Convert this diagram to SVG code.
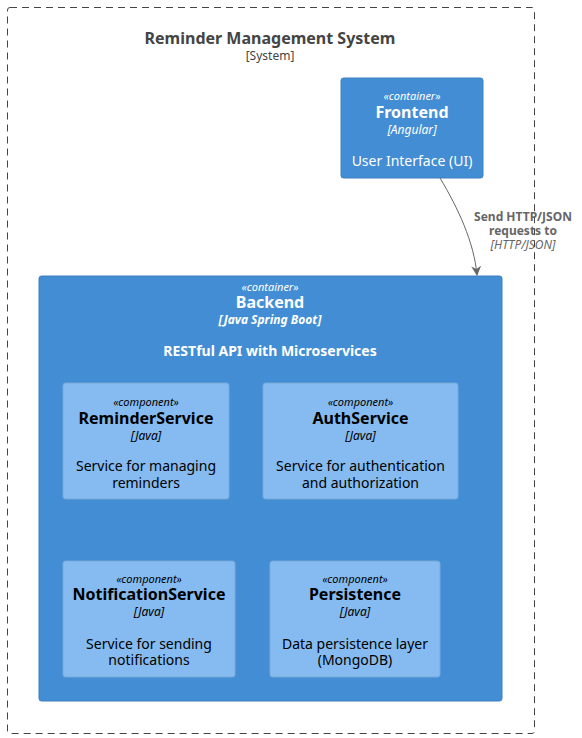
<svg xmlns="http://www.w3.org/2000/svg" width="582" height="738" viewBox="0 0 582 738">
<style>
text{font-family:"Noto Sans","Liberation Sans",Arial,sans-serif;text-anchor:middle;dominant-baseline:central}
.cont{fill:#438DD5;stroke:#3C7FC0;stroke-width:1}
.comp{fill:#85BBF0;stroke:#78A8D8;stroke-width:1}
.w{fill:#FFFFFF}
.b{fill:#000000}
.st{font-size:11px;font-style:italic}
.nm{font-size:16px;font-weight:bold}
.tc{font-size:12px;font-style:italic}
.ds{font-size:14px}
.lbl{fill:#666666;font-size:12px;font-weight:bold}
</style>
<defs>
<marker id="arr" viewBox="0 0 10 10" refX="9" refY="5" markerWidth="10" markerHeight="10" markerUnits="userSpaceOnUse" orient="auto">
<path d="M0,0 L10,5 L0,10 L3,5 Z" fill="#666666"/>
</marker>
</defs>
<g id="boundary">
<rect x="7.5" y="7.5" width="527" height="726" fill="none" stroke="#444444" stroke-width="1" stroke-dasharray="7,5" rx="2.5"/>
<text x="270" y="38" style="font-size:16px;font-weight:bold" fill="#444444">Reminder Management System</text>
<text x="270" y="55" style="font-size:12px" fill="#444444">[System]</text>
</g>
<g id="frontend">
<rect class="cont" x="341" y="78" width="142" height="100" rx="2.5"/>
<text class="w st" x="412" y="95">«container»</text>
<text class="w nm" x="412" y="112">Frontend</text>
<text class="w tc" x="412" y="129">[Angular]</text>
<text class="w ds" x="412" y="160">User Interface (UI)</text>
</g>
<g id="backend">
<rect class="cont" x="39" y="276" width="463" height="425" rx="2.5"/>
<text class="w st" x="270" y="286">«container»</text>
<text class="w nm" x="270" y="302">Backend</text>
<text class="w tc" x="270" y="319" style="font-weight:bold">[Java Spring Boot]</text>
<text class="w ds" x="270" y="350" style="font-weight:bold">RESTful API with Microservices</text>
</g>
<g id="reminderservice">
<rect class="comp" x="63" y="383" width="166" height="116" rx="2.5"/>
<text class="b st" x="146" y="401">«component»</text>
<text class="b nm" x="146" y="418">ReminderService</text>
<text class="b tc" x="146" y="435">[Java]</text>
<text class="b ds" x="146" y="465">Service for managing</text>
<text class="b ds" x="146" y="482">reminders</text>
</g>
<g id="authservice">
<rect class="comp" x="263" y="383" width="195" height="116" rx="2.5"/>
<text class="b st" x="360.5" y="401">«component»</text>
<text class="b nm" x="360.5" y="418">AuthService</text>
<text class="b tc" x="360.5" y="435">[Java]</text>
<text class="b ds" x="360.5" y="465">Service for authentication</text>
<text class="b ds" x="360.5" y="482">and authorization</text>
</g>
<g id="notificationservice">
<rect class="comp" x="63" y="561" width="172" height="116" rx="2.5"/>
<text class="b st" x="149" y="578">«component»</text>
<text class="b nm" x="149" y="594">NotificationService</text>
<text class="b tc" x="149" y="611">[Java]</text>
<text class="b ds" x="149" y="643">Service for sending</text>
<text class="b ds" x="149" y="659">notifications</text>
</g>
<g id="persistence">
<rect class="comp" x="270" y="561" width="170" height="116" rx="2.5"/>
<text class="b st" x="355" y="578">«component»</text>
<text class="b nm" x="355" y="594">Persistence</text>
<text class="b tc" x="355" y="611">[Java]</text>
<text class="b ds" x="355" y="643">Data persistence layer</text>
<text class="b ds" x="355" y="659">(MongoDB)</text>
</g>
<g id="connectors">
<path d="M440,178 C458,208 474,242 477,275" fill="none" stroke="#666666" stroke-width="1" marker-end="url(#arr)"/>
<text class="lbl" x="523" y="216">Send HTTP/JSON</text>
<text class="lbl" x="523" y="230">requests to</text>
<text x="523" y="244" style="font-size:12px;font-style:italic" fill="#666666">[HTTP/JSON]</text>
</g>
</svg>
